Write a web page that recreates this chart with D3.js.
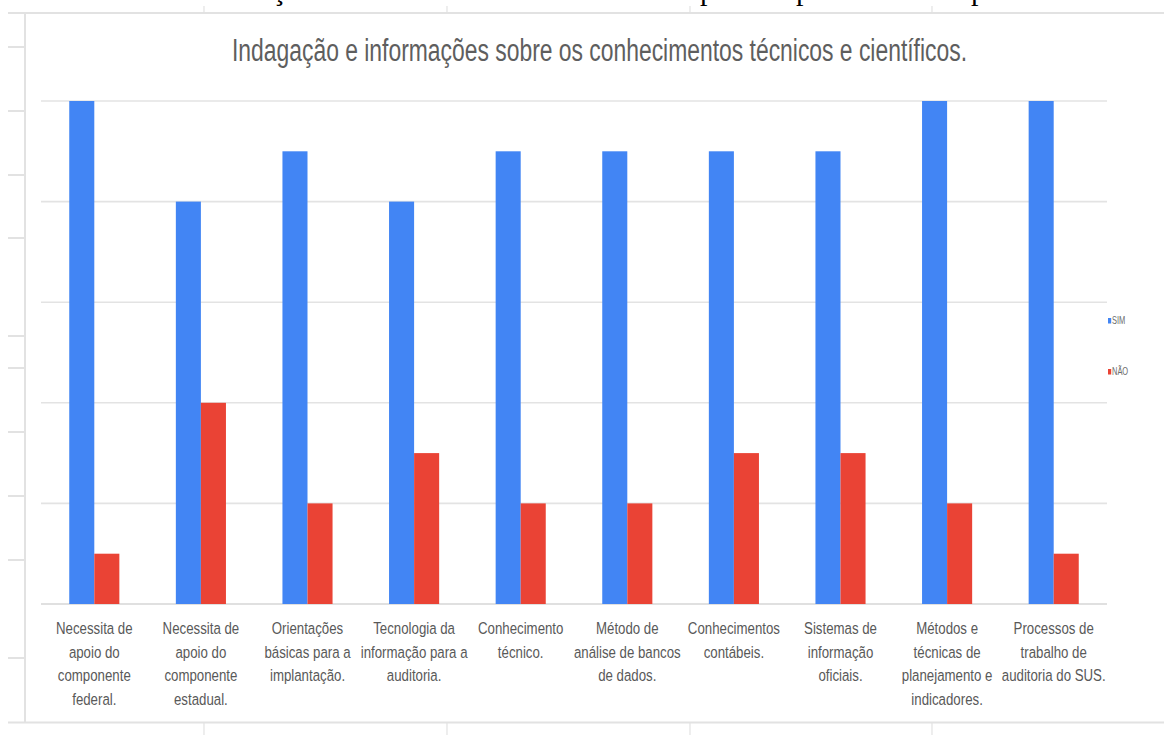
<!DOCTYPE html>
<html><head><meta charset="utf-8">
<script src="https://cdn.jsdelivr.net/npm/d3@7"></script>
<style>html,body{margin:0;padding:0;background:#fff;}svg{display:block;}</style>
</head><body>
<svg id="c" width="1164" height="735"></svg>
<script>
const categories = [
  ["Necessita de","apoio do","componente","federal."],
  ["Necessita de","apoio do","componente","estadual."],
  ["Orientações","básicas para a","implantação."],
  ["Tecnologia da","informação para a","auditoria."],
  ["Conhecimento","técnico."],
  ["Método de","análise de bancos","de dados."],
  ["Conhecimentos","contábeis."],
  ["Sistemas de","informação","oficiais."],
  ["Métodos e","técnicas de","planejamento e","indicadores."],
  ["Processos de","trabalho de","auditoria do SUS."]
];
const seriesNames = ["SIM","NÃO"];
const simValues = [10,8,9,8,9,9,9,9,10,10];
const naoValues = [1,4,2,3,2,2,3,3,2,1];
const yTicks = [0,2,4,6,8,10];
const titleText = "Indagação e informações sobre os conhecimentos técnicos e científicos.";
const colors = {"SIM":"#4285F4","NÃO":"#EA4335"};

(function(){
const svg = d3.select("#c");
const grey = "#e2e2e2";

// document remnants (page table rules)
const docG = svg.append("g");
docG.append("line").attr("x1",8).attr("x2",1164).attr("y1",13).attr("y2",13).attr("stroke",grey).attr("stroke-width",2);
docG.append("line").attr("x1",8).attr("x2",1164).attr("y1",722.5).attr("y2",722.5).attr("stroke",grey).attr("stroke-width",2);
docG.append("line").attr("x1",25).attr("x2",25).attr("y1",13).attr("y2",723).attr("stroke",grey).attr("stroke-width",2);
[47,111,175,238,336,368,432,496,560,658].forEach(yy=>{
  docG.append("line").attr("x1",8).attr("x2",25).attr("y1",yy).attr("y2",yy).attr("stroke",grey).attr("stroke-width",2);
});
[204,447,690,932].forEach(xx=>{
  docG.append("line").attr("x1",xx).attr("x2",xx).attr("y1",6).attr("y2",13).attr("stroke",grey).attr("stroke-width",1.2);
  docG.append("line").attr("x1",xx).attr("x2",xx).attr("y1",723).attr("y2",735).attr("stroke",grey).attr("stroke-width",1.2);
});
// cut-off text of the page above
[["ç",272],["p",700],["p",796],["p",971]].forEach(([t,xx])=>{
  docG.append("text").attr("x",xx).attr("y",-0.5).attr("font-family","Liberation Serif").attr("font-size",30).attr("fill","#000").text(t);
});

const pl = 41, pr = 1107, pt = 101, pb = 604;
const y = d3.scaleLinear().domain([0,10]).range([pb, pt]);
const x0 = d3.scaleBand().domain(d3.range(categories.length)).range([pl,pr]).paddingInner(0.53).paddingOuter(0.265);
const x1 = d3.scaleBand().domain(seriesNames).range([0, x0.bandwidth()]);

// gridlines
svg.append("g").selectAll("line").data(yTicks).join("line")
  .attr("x1",pl).attr("x2",pr)
  .attr("y1",d=>y(d)).attr("y2",d=>y(d))
  .attr("stroke",d=>d===0?"#d6d6d6":"#e3e3e3").attr("stroke-width",1.6);

// bars
const data = categories.map((c,i)=>({i, SIM: simValues[i], "NÃO": naoValues[i]}));
const groups = svg.append("g").selectAll("g").data(data).join("g")
  .attr("transform",d=>`translate(${x0(d.i)},0)`);
groups.selectAll("rect").data(d=>seriesNames.map(k=>({k, v:d[k]}))).join("rect")
  .attr("x",d=>x1(d.k)).attr("width",x1.bandwidth())
  .attr("y",d=>y(d.v)).attr("height",d=>y(0)-y(d.v))
  .attr("fill",d=>colors[d.k]);

// category labels
const lab = svg.append("g").attr("font-family","Liberation Sans, Arial, sans-serif").attr("font-size",17).attr("fill","#595959");
categories.forEach((lines,i)=>{
  const cx = x0(i) + x0.bandwidth()/2;
  lines.forEach((t,j)=>{
    lab.append("g").attr("transform",`translate(${cx},${634 + j*23.5}) scale(0.78,1)`)
      .append("text").attr("text-anchor","middle").text(t);
  });
});

// title
svg.append("text").attr("x",232).attr("y",61)
  .attr("font-family","Liberation Sans, Arial, sans-serif").attr("font-size",31).attr("fill","#5e5e5e")
  .attr("textLength",735).attr("lengthAdjust","spacingAndGlyphs").text(titleText);

// legend
const legY = [318, 369];
seriesNames.forEach((s,i)=>{
  svg.append("rect").attr("x",1108).attr("y",legY[i]).attr("width",3.2).attr("height",5.5).attr("fill",colors[s]);
  svg.append("g").attr("transform",`translate(1112,${legY[i]+6}) scale(0.68,1)`)
    .append("text").attr("font-family","Liberation Sans, Arial, sans-serif").attr("font-size",11).attr("fill","#6a6a6a").text(s);
});
})();
</script>
</body></html>
